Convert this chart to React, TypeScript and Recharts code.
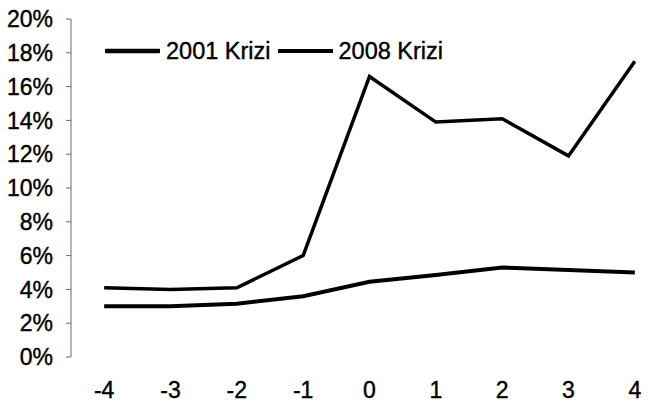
import React from 'react';
import { LineChart, Line, XAxis, YAxis, Legend } from 'recharts';

const categories = [-4, -3, -2, -1, 0, 1, 2, 3, 4];
const krizi2001 = [4.1, 4.0, 4.1, 6.0, 16.6, 13.9, 14.1, 11.9, 17.5];
const krizi2008 = [3.0, 3.0, 3.15, 3.6, 4.45, 4.85, 5.3, 5.15, 5.0];
const yTicks = [0, 2, 4, 6, 8, 10, 12, 14, 16, 18, 20];
const seriesNames = ['2001 Krizi', '2008 Krizi'];

// tick marks sit between categories, labels at the centres
const boundaryTicks = categories.map((c) => c - 0.5).concat(categories[categories.length - 1] + 0.5);

const data = categories.map((c, i) => ({
  x: c,
  k2001: krizi2001[i],
  k2008: krizi2008[i],
}));

const FONT = '"Liberation Sans", Arial, sans-serif';
const AXIS = '#6b6b6b';
const tickStyle = { fill: '#000', fontSize: 23, fontFamily: FONT, stroke: '#000', strokeWidth: 0.4 };

const renderLegend = () => (
  <div style={{ display: 'flex', alignItems: 'center', fontFamily: FONT, fontSize: 23.5, color: '#000', WebkitTextStroke: '0.4px #000' }}>
    {seriesNames.map((name, i) => (
      <div key={name} style={{ display: 'flex', alignItems: 'center', marginRight: 7 }}>
        <svg width={55} height={24} style={{ marginRight: 6 }}>
          <line x1={1} y1={12} x2={54} y2={12} stroke="#000" strokeWidth={i === 0 ? 4.5 : 4} strokeLinecap="round" />
        </svg>
        <span style={{ lineHeight: '24px' }}>{name}</span>
      </div>
    ))}
  </div>
);

export default function App() {
  return (
    <div style={{ position: 'absolute', left: 0, top: 0, width: 662, height: 402, overflow: 'hidden', background: '#fff' }}>
      <LineChart width={675} height={402} data={data} margin={{ top: 19, right: 7, bottom: 0, left: 0 }}>
        <XAxis
          dataKey="x"
          type="number"
          domain={[-4.5, 4.5]}
          ticks={boundaryTicks}
          tickFormatter={() => ''}
          height={0}
          tickSize={5}
          stroke={AXIS}
          allowDataOverflow
        />
        <XAxis
          xAxisId="labels"
          dataKey="x"
          type="number"
          domain={[-4.5, 4.5]}
          ticks={categories}
          height={45}
          axisLine={false}
          tickLine={false}
          tickSize={5}
          tickMargin={20}
          tick={tickStyle}
        />
        <YAxis
          domain={[0, 20]}
          ticks={yTicks}
          width={71}
          tickSize={5}
          tickMargin={13}
          stroke={AXIS}
          tickFormatter={(v: number) => `${v}%`}
          tick={tickStyle}
        />
        <Legend
          layout="horizontal"
          verticalAlign="middle"
          align="center"
          content={renderLegend}
          wrapperStyle={{ top: 39, left: 105, width: 'auto' }}
        />
        <Line
          dataKey="k2001"
          name={seriesNames[0]}
          stroke="#000"
          strokeWidth={3.5}
          dot={false}
          isAnimationActive={false}
        />
        <Line
          dataKey="k2008"
          name={seriesNames[1]}
          stroke="#000"
          strokeWidth={4}
          dot={false}
          isAnimationActive={false}
        />
      </LineChart>
    </div>
  );
}
